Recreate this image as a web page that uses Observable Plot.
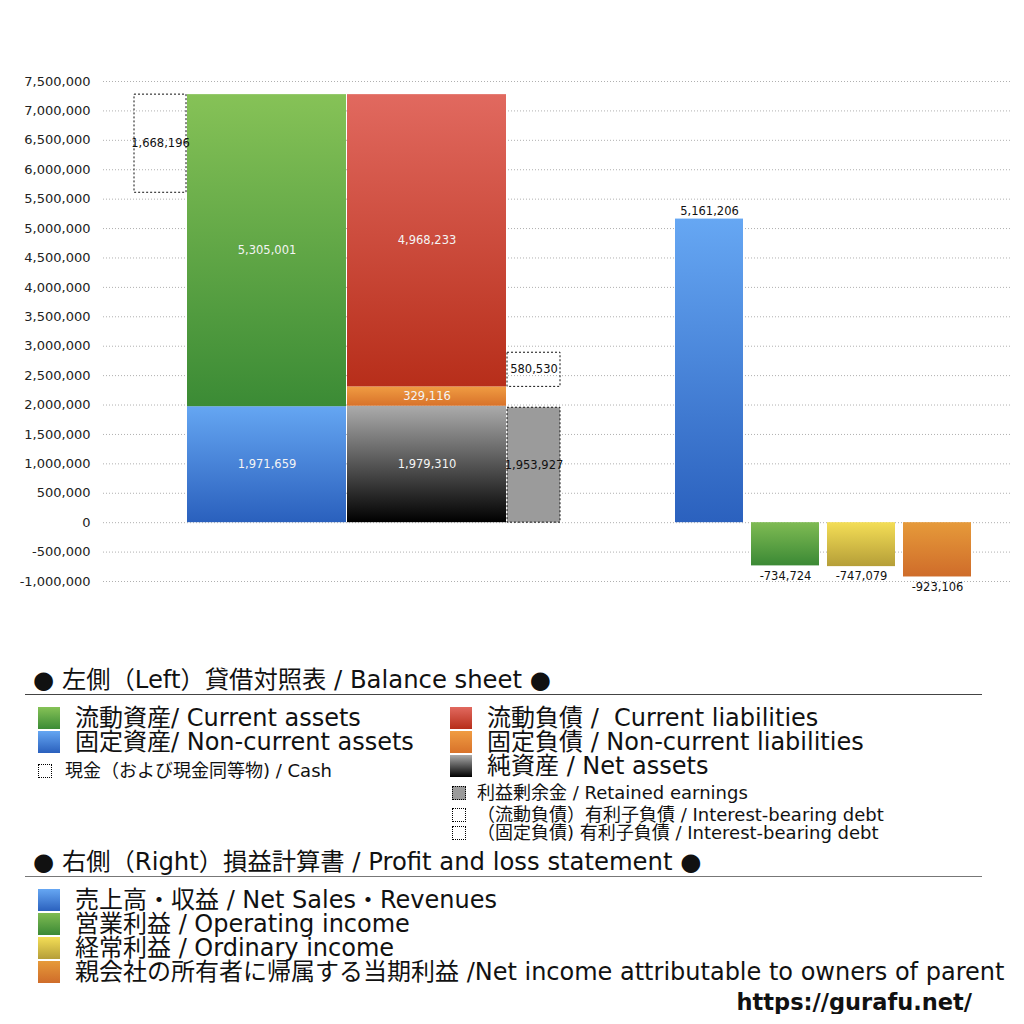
<!DOCTYPE html>
<html><head><meta charset="utf-8">
<script src="https://cdn.jsdelivr.net/npm/d3@7"></script>
<script src="https://cdn.jsdelivr.net/npm/@observablehq/plot@0.6"></script>
<style>
body{margin:0;background:#fff;font-family:"DejaVu Sans","Noto Sans CJK JP",sans-serif;color:#111}
#chart svg{display:block}
#legend{margin-left:25px;width:957px}
.hdr{font-size:24.3px;line-height:28px;height:28px;padding-left:8px;border-bottom:1px solid #444;white-space:pre}
.row{display:flex;align-items:center;height:24px;line-height:24px;font-size:24px;white-space:pre}
.sw{width:22px;height:22px;margin-right:15px;flex:none}
.srow{display:flex;align-items:center;height:18px;line-height:18px;font-size:18px;white-space:pre}
.ssw{width:14px;height:14px;margin-right:13px;flex:none;box-sizing:border-box;border:1px dotted #000;background:#fff}
.cols{display:flex;margin-top:10px;height:136px}
.col{position:relative}
.url{margin-top:6px;height:24px;line-height:24px;font-weight:bold;text-align:right;padding-right:10px;font-size:22.5px}
</style></head>
<body>
<div id="chart"></div>
<div id="legend"></div>
<script>
// ---- data ----
const assetNames = ["流動資産/ Current assets", "固定資産/ Non-current assets"];
const assetValues = [5305001, 1971659];
const liabilityNames = ["流動負債 /  Current liabilities", "固定負債 / Non-current liabilities", "純資産 / Net assets"];
const liabilityValues = [4968233, 329116, 1979310];
const cashName = "現金（および現金同等物) / Cash";
const cashValue = 1668196;
const retainedName = "利益剰余金 / Retained earnings";
const retainedValue = 1953927;
const debtNames =["（流動負債）有利子負債 / Interest-bearing debt", "（固定負債) 有利子負債 / Interest-bearing debt"];
const debtValues = [580530];
const plNames = ["売上高・収益 / Net Sales・Revenues", "営業利益 / Operating income", "経常利益 / Ordinary income", "親会社の所有者に帰属する当期利益 /Net income attributable to owners of parent"];
const plValues = [5161206, -734724, -747079, -923106];
const yTicks = [-1000000, -500000, 0, 500000, 1000000, 1500000, 2000000, 2500000, 3000000, 3500000, 4000000, 4500000, 5000000, 5500000, 6000000, 6500000, 7000000, 7500000];

// ---- styles ----
const grads = {
  gGreen: ["#86c257", "#3b8b35"],
  gBlue: ["#65a6f2", "#2a60bd"],
  gRed: ["#e1695f", "#b72e1a"],
  gOrange: ["#f09c42", "#d8722a"],
  gNet: ["#ababab", "#000000"],
  gPlBlue: ["#66a7f3", "#2b61be"],
  gPlGreen: ["#7fbb53", "#3b8935"],
  gYellow: ["#f4de56", "#b59e38"],
  gPlOrange: ["#e69a3a", "#cf6c2a"]
};
const assetFills = ["gGreen", "gBlue"];
const liabilityFills = ["gRed", "gOrange", "gNet"];
const plFills = ["gPlBlue", "gPlGreen", "gYellow", "gPlOrange"];

// layout widths (x-scale units)
const W = {lead: 29, narrow: 52, wide: 159, gapS: 1, gapGroup: 115, pl: 68, gapPl: 8};
let cursor = W.lead;
const take = w => { const a = cursor; cursor += w; return [a, cursor]; };
const cashCol = take(W.narrow); cursor += W.gapS;
const assetCol = take(W.wide); cursor += W.gapS;
const liabCol = take(W.wide); cursor += W.gapS;
const sideCol = take(W.narrow + 1); cursor += W.gapGroup;
const plCols = plValues.map(() => { const c = take(W.pl); cursor += W.gapPl; return c; });

const fmt = d => d3.format(",")(d).replace("\u2212", "-");

// stacks (bottom-up)
function stack(names, values, fills, col) {
  let base = 0; const out = [];
  for (let i = names.length - 1; i >= 0; i--) {
    out.push({name: names[i], v: values[i], y1: base, y2: base + values[i], x1: col[0], x2: col[1], fill: fills[i]});
    base += values[i];
  }
  return out;
}
const assetRects = stack(assetNames, assetValues, assetFills, assetCol);
const liabRects = stack(liabilityNames, liabilityValues, liabilityFills, liabCol);
const assetTotal = d3.sum(assetValues);
const cashRect = {v: cashValue, x1: cashCol[0], x2: cashCol[1], y1: assetTotal - cashValue, y2: assetTotal};
const curLiabBottom = liabRects.find(d => d.name === liabilityNames[0]).y1;
const debtRect = {v: debtValues[0], x1: sideCol[0], x2: sideCol[1], y1: curLiabBottom, y2: curLiabBottom + debtValues[0]};
const retainedRect = {v: retainedValue, x1: sideCol[0], x2: sideCol[1], y1: 0, y2: retainedValue};
const plRects = plValues.map((v, i) => ({name: plNames[i], v, x1: plCols[i][0], x2: plCols[i][1], y1: 0, y2: v, fill: plFills[i]}));

const stackRects = [...assetRects, ...liabRects];
const cx = d => (d.x1 + d.x2) / 2, cy = d => (d.y1 + d.y2) / 2;

const plot = Plot.plot({
  width: 1024, height: 640,
  marginTop: 81, marginBottom: 59, marginLeft: 103, marginRight: 14,
  style: {fontFamily: "'DejaVu Sans', 'Noto Sans', sans-serif", background: "#fff"},
  x: {domain: [-2, 905], axis: null},
  y: {domain: [-1000000, 7500000], axis: null},
  marks: [
    Plot.gridY(yTicks, {stroke: "#b0b0b0", strokeOpacity: 1, strokeDasharray: "1,2"}),
    Plot.axisY(yTicks, {tickSize: 0, tickPadding: 13, tickFormat: fmt, fontSize: 13, label: null, fill: "#222"}),
    ...[...stackRects, ...plRects].map(d => Plot.rect([d], {x1: "x1", x2: "x2", y1: "y1", y2: "y2", fill: `url(#${d.fill})`})),
    Plot.rect([retainedRect], {x1: "x1", x2: "x2", y1: "y1", y2: "y2", fill: "#9b9b9b", stroke: "#111", strokeWidth: 1, strokeDasharray: "2,2"}),
    Plot.rect([cashRect, debtRect], {x1: "x1", x2: "x2", y1: "y1", y2: "y2", fill: "none", stroke: "#111", strokeWidth: 1, strokeDasharray: "2,2"}),
    Plot.text(stackRects, {x: cx, y: cy, text: d => fmt(d.v), fill: "#f4f4f4", fontSize: 11.5, ariaLabel: "inner-labels"}),
    Plot.text([cashRect, debtRect, retainedRect], {x: cx, y: cy, text: d => fmt(d.v), fill: "#111", fontSize: 11.5}),
    Plot.text(plRects.filter(d => d.v >= 0), {x: cx, y: "y2", dy: -8, text: d => fmt(d.v), fill: "#111", fontSize: 11.5}),
    Plot.text(plRects.filter(d => d.v < 0), {x: cx, y: "y2", dy: 10, text: d => fmt(d.v), fill: "#111", fontSize: 11.5})
  ]
});

const svg = d3.select(plot);
const defs = svg.insert("defs", ":first-child");
for (const [id, [c0, c1]] of Object.entries(grads)) {
  const g = defs.append("linearGradient").attr("id", id).attr("x1", 0).attr("y1", 0).attr("x2", 0).attr("y2", 1);
  g.append("stop").attr("offset", "0%").attr("stop-color", c0);
  g.append("stop").attr("offset", "100%").attr("stop-color", c1);
}
const f = defs.append("filter").attr("id", "shadow").attr("x", "-20%").attr("y", "-50%").attr("width", "140%").attr("height", "200%");
f.append("feDropShadow").attr("dx", 0.6).attr("dy", 0.8).attr("stdDeviation", 0.5).attr("flood-color", "#000").attr("flood-opacity", 0.75);
svg.selectAll('g[aria-label="inner-labels"]').attr("filter", "url(#shadow)");
document.getElementById("chart").appendChild(plot);

// ---- legend ----
const css = id => `linear-gradient(${grads[id][0]}, ${grads[id][1]})`;
const L = d3.select("#legend");
L.append("div").attr("class", "hdr").style("margin-top", "26px").text("● 左側（Left）貸借対照表 / Balance sheet ●");
const cols = L.append("div").attr("class", "cols").style("margin-top", "11px");
const c1 = cols.append("div").attr("class", "col").style("width", "425px").style("padding-left", "13px").style("box-sizing", "border-box");
const c2 = cols.append("div").attr("class", "col");
assetNames.forEach((n, i) => {
  const r = c1.append("div").attr("class", "row");
  r.append("div").attr("class", "sw").style("background", css(assetFills[i]));
  r.append("span").text(n);
});
{
  const r = c1.append("div").attr("class", "srow").style("margin-top", "8px");
  r.append("div").attr("class", "ssw");
  r.append("span").text(cashName);
}
liabilityNames.forEach((n, i) => {
  const r = c2.append("div").attr("class", "row");
  r.append("div").attr("class", "sw").style("background", css(liabilityFills[i]));
  r.append("span").text(n);
});
{
  const r = c2.append("div").attr("class", "srow").style("margin-top", "6px").style("padding-left", "2px");
  r.append("div").attr("class", "ssw").style("background", "#9b9b9b").style("margin-right", "11px");
  r.append("span").text(retainedName);
}
debtNames.forEach((n, i) => {
  const r = c2.append("div").attr("class", "srow").style("margin-top", i === 0 ? "4px" : "0px").style("padding-left", "2px");
  r.append("div").attr("class", "ssw").style("margin-right", "11px");
  r.append("span").text(n);
});
L.append("div").attr("class", "hdr").style("margin-top", "6px").style("border-bottom-color", "#777").text("● 右側（Right）損益計算書 / Profit and loss statement ●");
const pl = L.append("div").style("margin-top", "11px").style("padding-left", "13px");
plNames.forEach((n, i) => {
  const r = pl.append("div").attr("class", "row");
  r.append("div").attr("class", "sw").style("background", css(plFills[i]));
  r.append("span").text(n);
});
L.append("div").attr("class", "url").text("https://gurafu.net/");
</script>
</body></html>
